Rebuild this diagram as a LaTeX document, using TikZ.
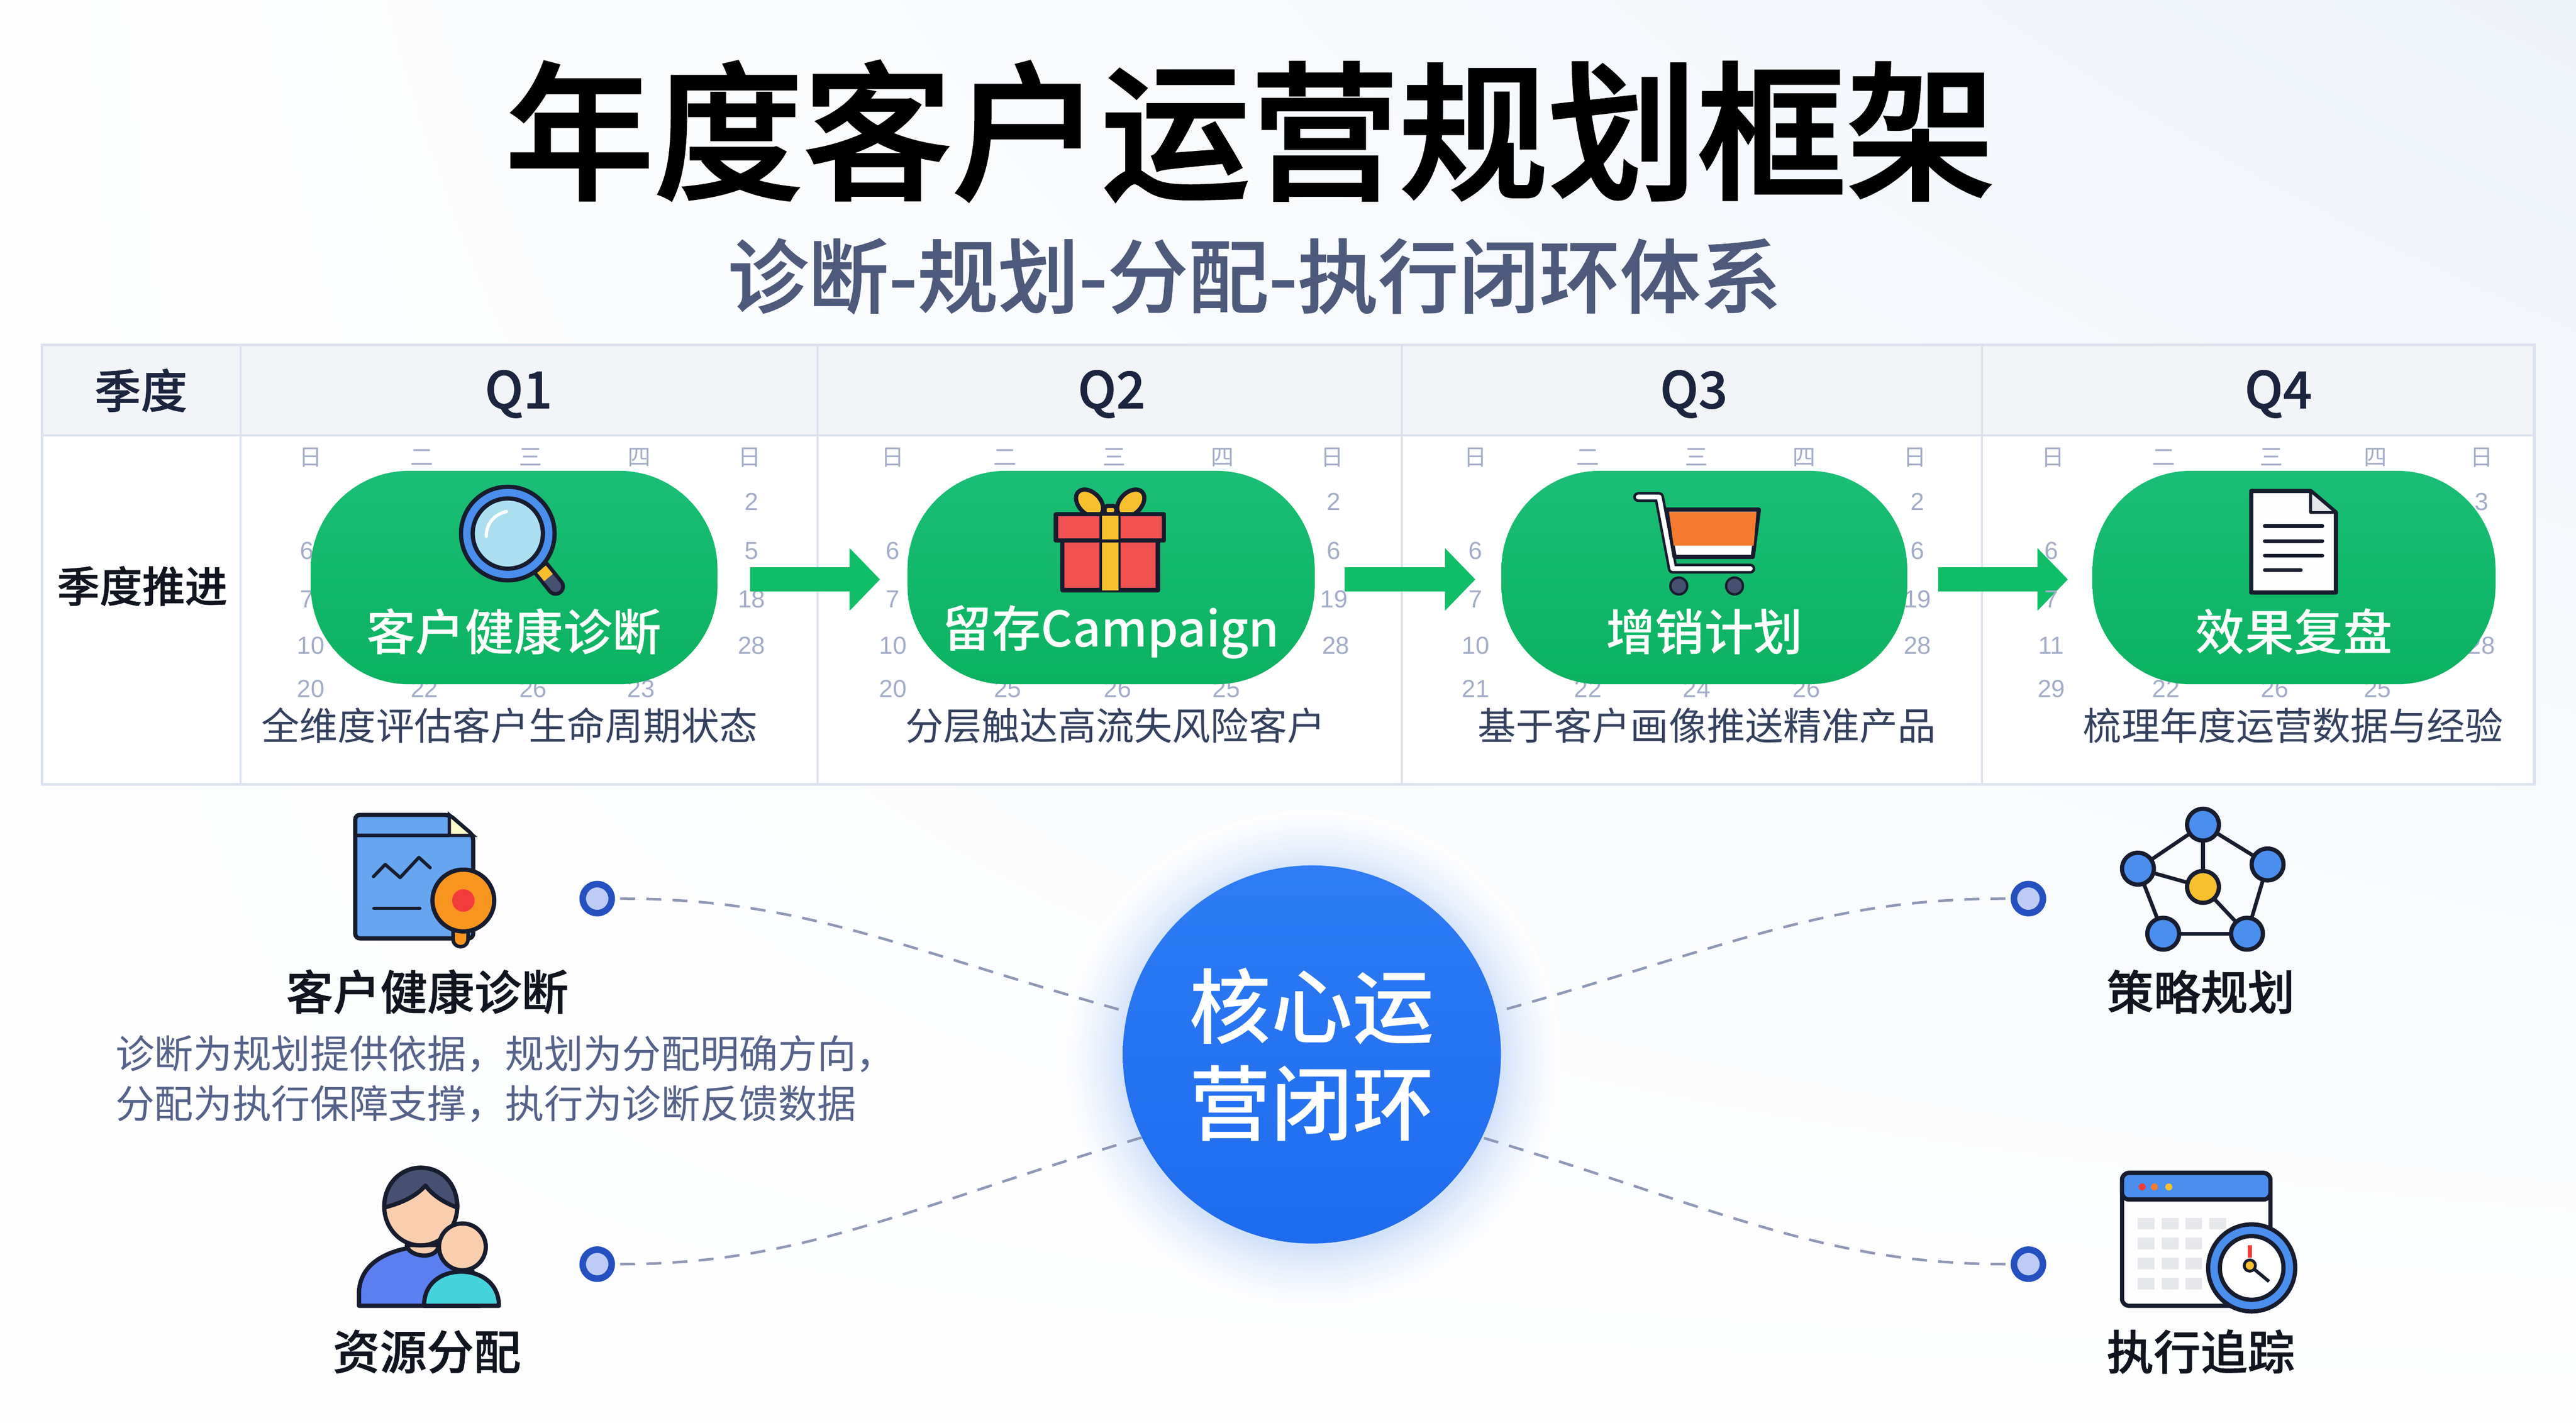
\documentclass[tikz,border=0pt]{standalone}
\usepackage{fontspec}
\setmainfont{Noto Sans CJK SC}
\newfontfamily\cjkmedium{Noto Sans CJK SC Medium}
\newfontfamily\cjksemi[FakeBold=0.8]{Noto Sans CJK SC Medium}
\newfontfamily\cjktitle[FakeBold=1.6]{Noto Sans CJK SC Medium}
\newfontfamily\digitfont{Liberation Sans}
\usetikzlibrary{%
        arrows.meta,
        positioning,
        shadings,
    }
\definecolor{pagetint}{HTML}{EFF4FA}
\definecolor{pagebase}{HTML}{FEFEFE}
\definecolor{headfill}{HTML}{F2F4F8}
\definecolor{gridline}{HTML}{DCE2EE}
\definecolor{inkdark}{HTML}{10151F}
\definecolor{inknavy}{HTML}{1B2540}
\definecolor{inkslate}{HTML}{4D5A7C}
\definecolor{inkcaption}{HTML}{34415F}
\definecolor{inkbody}{HTML}{55628A}
\definecolor{calgray}{HTML}{A3ADC8}
\definecolor{pilltop}{HTML}{1ABE75}
\definecolor{pillbot}{HTML}{0BB25F}
\definecolor{flowgreen}{HTML}{10BE68}
\definecolor{coretop}{HTML}{2F7CF6}
\definecolor{corebot}{HTML}{1E6BEE}
\definecolor{glowin}{HTML}{D3E2FB}
\definecolor{glowmid}{HTML}{EBF2FD}
\definecolor{dotfill}{HTML}{BECCF5}
\definecolor{dotring}{HTML}{2450C0}
\definecolor{linkgray}{HTML}{8F98B6}
\definecolor{iconink}{HTML}{171C2E}
\definecolor{iconblue}{HTML}{4A8EEE}
\definecolor{sheetblue}{HTML}{66A5F0}
\definecolor{lenslight}{HTML}{ABDFF0}
\definecolor{handlegray}{HTML}{465070}
\definecolor{giftred}{HTML}{F05252}
\definecolor{goldy}{HTML}{F8C02E}
\definecolor{cartorange}{HTML}{F47B30}
\definecolor{pinorange}{HTML}{F7951E}
\definecolor{pinred}{HTML}{F23B3B}
\definecolor{skin}{HTML}{FBCFAE}
\definecolor{shirtblue}{HTML}{5B7FF0}
\definecolor{teal}{HTML}{45D3DC}
\definecolor{cellgray}{HTML}{E6E8EC}
\pgfdeclareradialshading{coreglow}{\pgfpointorigin}{%
    color(0bp)=(glowin);
    color(19bp)=(glowin);
    color(21.5bp)=(glowmid);
    color(25bp)=(pagebase);
    color(50bp)=(pagebase)%
}
\tikzset{%
    iconline/.style={draw=iconink, line width=.9mm, line join=round},
    titletext/.style={inner sep=0pt, font=\cjktitle\fontsize{90.6}{100}\selectfont},
    subtitletext/.style={%
        inner sep=0pt,
        text=inkslate,
        font=\cjksemi\fontsize{49}{56}\selectfont,
    },
    headtext/.style={%
        inner sep=0pt,
        text=inknavy,
        font=\cjksemi\fontsize{28.2}{32}\selectfont,
    },
    quartertext/.style={%
        inner sep=0pt,
        text=inknavy,
        font=\cjksemi\fontsize{31}{36}\selectfont,
    },
    rowtext/.style={%
        inner sep=0pt,
        text=inkdark,
        font=\cjksemi\fontsize{25.9}{30}\selectfont,
    },
    caltext/.style={%
        inner sep=0pt,
        text=calgray,
        font=\fontsize{14}{16}\selectfont,
    },
    calnum/.style={%
        inner sep=0pt,
        text=calgray,
        font=\digitfont\fontsize{15}{17}\selectfont,
    },
    stagepill/.style={%
        rectangle,
        rounded corners=21mm,
        minimum height=45.6mm,
        top color=pilltop,
        bottom color=pillbot,
    },
    pilltext/.style={%
        inner sep=0pt,
        text=white,
        font=\cjkmedium\fontsize{29.9}{34}\selectfont,
    },
    captiontext/.style={%
        inner sep=0pt,
        text=inkcaption,
        font=\fontsize{23.2}{27}\selectfont,
    },
    flowarrow/.style={%
        line width=5.2mm,
        draw=flowgreen,
        -{Triangle[length=6.5mm, width=13mm]},
    },
    coredisc/.style={%
        circle,
        inner sep=0pt,
        minimum size=80.8mm,
        top color=coretop,
        bottom color=corebot,
        text=white,
        align=center,
        font=\cjkmedium\fontsize{49.6}{58.9}\selectfont,
    },
    dotmark/.style={%
        circle,
        inner sep=0pt,
        minimum size=6.2mm,
        fill=dotfill,
        draw=dotring,
        line width=1.4mm,
    },
    linkdash/.style={%
        draw=linkgray,
        line width=.55mm,
        dash pattern=on 3.2mm off 2.4mm,
    },
    sidelabel/.style={%
        inner sep=0pt,
        text=inkdark,
        font=\cjksemi\fontsize{28.6}{32}\selectfont,
    },
    bodytext/.style={%
        inner sep=0pt,
        text=inkbody,
        align=left,
        font=\fontsize{23.7}{30.4}\selectfont,
    },
    lensicon/.pic={%
        code{%
            \draw[iconink, line width=4mm, line cap=round]
                (7mm, -7.3mm) -- (10.2mm, -11.3mm);
            \draw[handlegray, line width=2.4mm, line cap=round]
                (8mm, -8.6mm) -- (10.2mm, -11.3mm);
            \draw[goldy, line width=2.4mm] (7.2mm, -7.6mm) -- (8.7mm, -9.4mm);
            \draw[iconline, fill=iconblue] (0, 0) circle (10mm);
            \draw[iconline, fill=lenslight] (0, 0) circle (7.5mm);
            \draw[white, line width=.7mm, line cap=round]
                (-4.6mm, -.6mm) .. controls (-4.6mm, 2.5mm)
                and (-2.5mm, 4.2mm) .. (-.3mm, 4.7mm);
        };
    },
    gifticon/.pic={%
        code{%
            \draw[iconline, fill=goldy, rotate around={-45:(-4.4mm, 8mm)}]
                (-4.4mm, 8mm) ellipse (3.4mm and 2.3mm);
            \draw[iconline, fill=goldy, rotate around={45:(4.4mm, 8mm)}]
                (4.4mm, 8mm) ellipse (3.4mm and 2.3mm);
            \draw[iconline, fill=goldy, rounded corners=.6mm]
                (-1.2mm, 7.4mm) rectangle (1.3mm, 5.6mm);
            \draw[iconline, fill=giftred] (-10.2mm, 0) rectangle (10.2mm, -10.6mm);
            \fill[goldy] (-2mm, 0) rectangle (2mm, -10.6mm);
            \draw[iconline, fill=giftred] (-11.6mm, 5.6mm) rectangle (11.5mm, 0);
            \draw[iconink, line width=.5mm, fill=goldy]
                (-2mm, 5.6mm) rectangle (2mm, 0);
            \draw[iconink, line width=.5mm]
                (-2mm, 0) -- (-2mm, -10.6mm) (2mm, 0) -- (2mm, -10.6mm);
        };
    },
    carticon/.pic={%
        code{%
            \draw[iconink, line width=2.1mm, line join=round, line cap=round]
                (-12.5mm, 7.8mm) -- (-8mm, 7.8mm) -- (-5.1mm, -7.5mm) -- (11.5mm, -7.5mm);
            \draw[white, line width=1mm, line join=round, line cap=round]
                (-12.5mm, 7.8mm) -- (-8mm, 7.8mm) -- (-5.1mm, -7.5mm) -- (11.5mm, -7.5mm);
            \draw[iconline, fill=white]
                (-6.4mm, 5.1mm) -- (13.3mm, 5.1mm) -- (12mm, -5mm) -- (-4.7mm, -5mm) -- cycle;
            \fill[cartorange]
                (-5.9mm, 4.6mm) -- (12.8mm, 4.6mm) -- (12.2mm, -2.6mm) -- (-4.9mm, -2.6mm) -- cycle;
            \foreach \wx in {-3.8mm, 8.1mm}{%
                \draw[iconink, line width=.5mm, fill=handlegray]
                    (\wx, -11.2mm) circle (1.8mm);
            };
        };
    },
    docicon/.pic={%
        code{%
            \draw[iconline, fill=white!95!cellgray]
                (-9mm, 10.9mm) -- (3.7mm, 10.9mm) -- (9.1mm, 6.3mm)
                -- (9.1mm, -10.8mm) -- (-9mm, -10.8mm) -- cycle;
            \draw[iconink, line width=.6mm, line join=round, fill=cellgray]
                (3.7mm, 10.9mm) -- (3.7mm, 6.3mm) -- (9.1mm, 6.3mm) -- cycle;
            \foreach \ly/\lx in {3.4mm/6.2mm, .2mm/6.2mm, -2.9mm/6.2mm, -6mm/1.6mm}{%
                \draw[iconink, line width=.8mm, line cap=round]
                    (-6.1mm, \ly) -- (\lx, \ly);
            };
        };
    },
    reporticon/.pic={%
        code{%
            \draw[iconline, fill=sheetblue, rounded corners=1mm]
                (-12.6mm, 13.2mm) -- (7.5mm, 13.2mm) -- (12.6mm, 8.8mm)
                -- (12.6mm, -13.2mm) -- (-12.6mm, -13.2mm) -- cycle;
            \draw[iconink, line width=.7mm, fill=yellow!20]
                (7.5mm, 13.2mm) -- (7.5mm, 8.8mm) -- (12.6mm, 8.8mm) -- cycle;
            \draw[iconink, line width=.7mm] (-12.6mm, 8.8mm) -- (7.5mm, 8.8mm);
            \draw[iconink, line width=.7mm, line join=round, line cap=round]
                (-8.7mm, 0) -- (-6.2mm, 2.6mm) -- (-3mm, -.2mm) -- (1mm, 4.1mm) -- (3.4mm, 1.9mm);
            \draw[iconink, line width=.7mm, line cap=round]
                (-8.6mm, -6.8mm) -- (1.2mm, -6.8mm);
            \draw[iconink, line width=3.9mm, line cap=round] (9.9mm, -11mm) -- (9.9mm, -13.4mm);
            \draw[pinorange, line width=2.4mm, line cap=round] (9.9mm, -11mm) -- (9.9mm, -13.4mm);
            \draw[iconline, fill=pinorange] (10.5mm, -5.1mm) circle (6.6mm);
            \fill[pinred] (10.5mm, -5.1mm) circle (2.4mm);
        };
    },
    peopleicon/.pic={%
        code{%
            \draw[iconline, fill=shirtblue]
                (-13.8mm, -15mm) -- (-13.8mm, -12mm)
                .. controls (-13.5mm, -6mm) and (-8mm, -3.5mm) .. (-3mm, -2.6mm)
                -- (4mm, -2.6mm)
                .. controls (8mm, -3.5mm) and (12mm, -7mm) .. (12mm, -15mm) -- cycle;
            \draw[iconline, fill=skin]
                (-3.6mm, -2mm) .. controls (-3.4mm, -4.5mm)
                and (2.8mm, -5.5mm) .. (3.3mm, -2mm) -- cycle;
            \draw[iconline, fill=skin] (-.6mm, 6.2mm) ellipse (7.8mm and 8.3mm);
            \draw[iconline, fill=handlegray]
                (-8.4mm, 6mm) .. controls (-8.4mm, 11.5mm) and (-4.5mm, 14.5mm) .. (-.6mm, 14.5mm)
                .. controls (3.5mm, 14.5mm) and (7.2mm, 11.5mm) .. (7.2mm, 6mm)
                .. controls (4.5mm, 7mm) and (2mm, 8.5mm) .. (.4mm, 10.7mm)
                .. controls (-1.5mm, 8.5mm) and (-4.5mm, 7mm) .. (-8.4mm, 6mm) -- cycle;
            \draw[iconline, fill=skin] (8.3mm, -2.4mm) circle (5mm);
            \draw[iconline, fill=teal]
                (.1mm, -15mm) .. controls (.1mm, -10mm) and (4mm, -7.7mm) .. (8.1mm, -7.7mm)
                .. controls (12mm, -7.7mm) and (16.1mm, -10mm) .. (16.1mm, -15mm) -- cycle;
        };
    },
    meshicon/.pic={%
        code{%
            \foreach \ax/\ay/\bx/\by in {%
                0/13.3/-13.9/3.9, 0/13.3/13.8/4.8, 0/13.3/0/0,
                -13.9/3.9/0/0, -13.9/3.9/-8.5/-10, 13.8/4.8/9.4/-10,
                -8.5/-10/9.4/-10, 0/0/9.4/-10%
            }{%
                \draw[iconink, line width=.8mm] (\ax mm, \ay mm) -- (\bx mm, \by mm);
            };
            \foreach \nx/\ny in {0/13.3, -13.9/3.9, 13.8/4.8, -8.5/-10, 9.4/-10}{%
                \draw[iconline, fill=iconblue] (\nx mm, \ny mm) circle (3.4mm);
            };
            \draw[iconline, fill=goldy] (0, 0) circle (3.4mm);
        };
    },
    clockicon/.pic={%
        code{%
            \draw[iconline, fill=white!96!cellgray, rounded corners=1.5mm]
                (-15.9mm, 14.2mm) rectangle (15.8mm, -14.2mm);
            \draw[iconline, fill=iconblue, rounded corners=1.5mm]
                (-15.9mm, 8.5mm) -- (-15.9mm, 14.2mm) -- (15.8mm, 14.2mm)
                -- (15.8mm, 8.5mm) -- cycle;
            \foreach \dx/\dcol in {-11.6/pinred, -9/cartorange, -5.9/goldy}{%
                \fill[\dcol] (\dx mm, 11.2mm) circle (.75mm);
            };
            \foreach \cx in {-12.6, -7.4, -2.4}{%
                \foreach \cy in {4.6, .4, -3.9, -8.2}{%
                    \fill[cellgray] (\cx mm, \cy mm) rectangle ++(3.6mm, -2.5mm);
                };
            };
            \fill[cellgray] (2.7mm, 4.6mm) rectangle ++(3.6mm, -2.5mm);
            \draw[iconline, fill=iconblue] (11.8mm, -6.1mm) circle (9.3mm);
            \draw[iconline, fill=white] (11.8mm, -6.1mm) circle (6.8mm);
            \draw[pinred, line width=.8mm] (11.4mm, -1.3mm) -- (11.4mm, -3.9mm);
            \draw[iconink, line width=.7mm] (11.4mm, -5.6mm) -- (15.5mm, -9mm);
            \draw[iconink, line width=.6mm, fill=goldy] (11.4mm, -5.6mm) circle (1.2mm);
        };
    },
}

\begin{document}
\begin{tikzpicture}

    \path[use as bounding box] (0, 0) rectangle (550.4mm, -304mm);
    \shade[%
        upper right=pagetint,
        lower right=pagebase,
        upper left=pagebase,
        lower left=pagebase,
    ] (0, 0) rectangle (550.4mm, -304mm);

    %%%%%%%%%%
    % Titles %
    %%%%%%%%%%
    \node[titletext] (title) at (267.1mm, -28mm) {年度客户运营规划框架};
    \node[subtitletext] (subtitle) at (268mm, -59mm) {诊断-规划-分配-执行闭环体系};

    %%%%%%%%%
    % Table %
    %%%%%%%%%
    \fill[white] (9mm, -73.7mm) rectangle (541.5mm, -167.6mm);
    \fill[headfill] (9mm, -73.7mm) rectangle (541.5mm, -93mm);
    \draw[gridline, line width=.6mm] (9mm, -73.7mm) rectangle (541.5mm, -167.6mm);
    \draw[gridline, line width=.5mm] (9mm, -93mm) -- (541.5mm, -93mm);
    \foreach \colx in {51.4mm, 174.7mm, 299.5mm, 423.5mm}{%
        \draw[gridline, line width=.4mm] (\colx, -73.7mm) -- (\colx, -167.6mm);
    };

    \node[headtext] (head-season) at (30.1mm, -83.4mm) {季度};
    \foreach \i/\x in {1/110.8, 2/237.5, 3/361.9, 4/486.8}{%
        \node[quartertext] (head-q\i) at (\x mm, -84.2mm) {Q\i};
    };
    \node[rowtext] (row-season) at (30.4mm, -125.2mm) {季度推进};

    % Calendar behind the stages
    \foreach \x/\lab/\n in {%
        66.4/日/a, 90.1/二/b, 113.4/三/c, 136.6/四/d, 160.2/日/e,
        190.8/日/f, 214.8/二/g, 238.1/三/h, 261.2/四/i, 284.7/日/j,
        315.3/日/k, 339.3/二/l, 362.5/三/m, 385.5/四/n, 409.1/日/o,
        438.7/日/p, 462.3/二/q, 485.3/三/r, 507.6/四/s, 530.2/日/t%
    }{%
        \node[caltext] (cal-\n) at (\x mm, -97.7mm) {\lab};
    };
    \foreach \x/\y/\lab/\n in {%
        160.6/107.2/2/a, 160.6/117.7/5/b, 160.6/128/18/c, 160.6/137.9/28/d,
        65.6/117.7/6/e, 65.6/128/7/f, 66.4/137.9/10/g, 66.4/147.2/20/h,
        90.7/147.2/22/i, 113.9/147.2/26/j, 137/147.2/23/k,
        285/107.2/2/l, 285/117.7/6/m, 285/128/19/n, 285.4/137.9/28/o,
        190.8/117.7/6/p, 190.8/128/7/q, 190.8/137.9/10/r, 190.8/147.2/20/s,
        215.3/147.2/25/t, 238.8/147.2/26/u, 262/147.2/25/v,
        409.7/107.2/2/w, 409.7/117.7/6/x, 409.7/128/19/y, 409.7/137.9/28/z,
        315.3/117.7/6/aa, 315.3/128/7/ab, 315.3/137.9/10/ac, 315.3/147.2/21/ad,
        339.3/147.2/22/ae, 362.5/147.2/24/af, 386/147.2/26/ag,
        530.2/107.2/3/ah, 530.2/137.9/28/ai,
        438.3/137.9/11/aj, 438.3/147.2/29/ak,
        462.8/147.2/22/al, 486/147.2/26/am, 508/147.2/25/an%
    }{%
        \node[calnum] (num-\n) at (\x mm, -\y mm) {\lab};
    };

    % Stages
    \foreach \i/\x/\w/\lab in {%
        1/109.85/86.9/客户健康诊断,
        2/237.4/87/留存Campaign,
        3/364.15/86.7/增销计划,
        4/490.15/86.1/效果复盘%
    }{%
        \node[stagepill, minimum width=\w mm] (stage-\i) at (\x mm, -123.4mm) {};
        \node[pilltext] (stage-\i-lab) at (\x mm, -135mm) {\lab};
    };

    \draw[flowarrow, shorten <=6.9mm, shorten >=5.8mm]
        ([yshift=-.4mm] stage-1.east) -- ([yshift=-.4mm] stage-2.west);
    \draw[flowarrow, shorten <=6.3mm, shorten >=5.5mm]
        ([yshift=-.4mm] stage-2.east) -- ([yshift=-.4mm] stage-3.west);
    \draw[flowarrow, shorten <=6.5mm, shorten >=5.2mm]
        ([yshift=-.4mm] stage-3.east) -- ([yshift=-.4mm] stage-4.west);

    \foreach \y/\lab/\n in {117.7/6/late-a, 128/7/late-b}{%
        \node[calnum] (num-\n) at (438.3mm, -\y mm) {\lab};
    };

    \foreach \x/\lab/\n in {%
        108.9/全维度评估客户生命周期状态/a,
        238.3/分层触达高流失风险客户/b,
        364.7/基于客户画像推送精准产品/c,
        490/梳理年度运营数据与经验/d%
    }{%
        \node[captiontext] (caption-\n) at (\x mm, -155mm) {\lab};
    };

    % Stage icons
    \path (108.5mm, -114mm) pic {lensicon};
    \path (237.2mm, -115.5mm) pic {gifticon};
    \path (362.5mm, -114mm) pic {carticon};
    \path (490mm, -115.8mm) pic {docicon};

    %%%%%%%%
    % Core %
    %%%%%%%%
    \shade[shading=coreglow] (280.3mm, -226.3mm) circle (53mm);
    \node[coredisc] (core) at (280.3mm, -225.3mm) {核心运\\营闭环};

    \node[dotmark] (dot-nw) at (127.6mm, -192mm) {};
    \node[dotmark] (dot-sw) at (127.6mm, -270.1mm) {};
    \node[dotmark] (dot-ne) at (433.4mm, -192mm) {};
    \node[dotmark] (dot-se) at (433.4mm, -270.1mm) {};

    \draw[linkdash, shorten <=1.1mm]
        (dot-nw.east) .. controls +(40mm, 0) and +(-50mm, 14mm) .. (core.167);
    \draw[linkdash, shorten <=1.1mm]
        (dot-sw.east) .. controls +(40mm, 0) and +(-50mm, -15mm) .. (core.206);
    \draw[linkdash, shorten <=1.1mm]
        (dot-ne.west) .. controls +(-40mm, 0) and +(50mm, 14mm) .. (core.13);
    \draw[linkdash, shorten <=1.1mm]
        (dot-se.west) .. controls +(-40mm, 0) and +(50mm, -15mm) .. (core.-26.5);

    %%%%%%%%%
    % Sides %
    %%%%%%%%%
    \path (88.5mm, -187.3mm) pic {reporticon};
    \path (90.5mm, -264mm) pic {peopleicon};
    \path (470.7mm, -189.5mm) pic {meshicon};
    \path (469.3mm, -264.8mm) pic {clockicon};

    \node[sidelabel] (side-health) at (91.3mm, -211.9mm) {客户健康诊断};
    \node[sidelabel] (side-resource) at (91.2mm, -288.8mm) {资源分配};
    \node[sidelabel] (side-strategy) at (470.2mm, -211.9mm) {策略规划};
    \node[sidelabel] (side-track) at (470.2mm, -288.8mm) {执行追踪};

    \node[bodytext, anchor=west] (side-body) at (24.6mm, -230.5mm) {%
        诊断为规划提供依据，规划为分配明确方向，\\
        分配为执行保障支撑，执行为诊断反馈数据%
    };

\end{tikzpicture}
\end{document}
